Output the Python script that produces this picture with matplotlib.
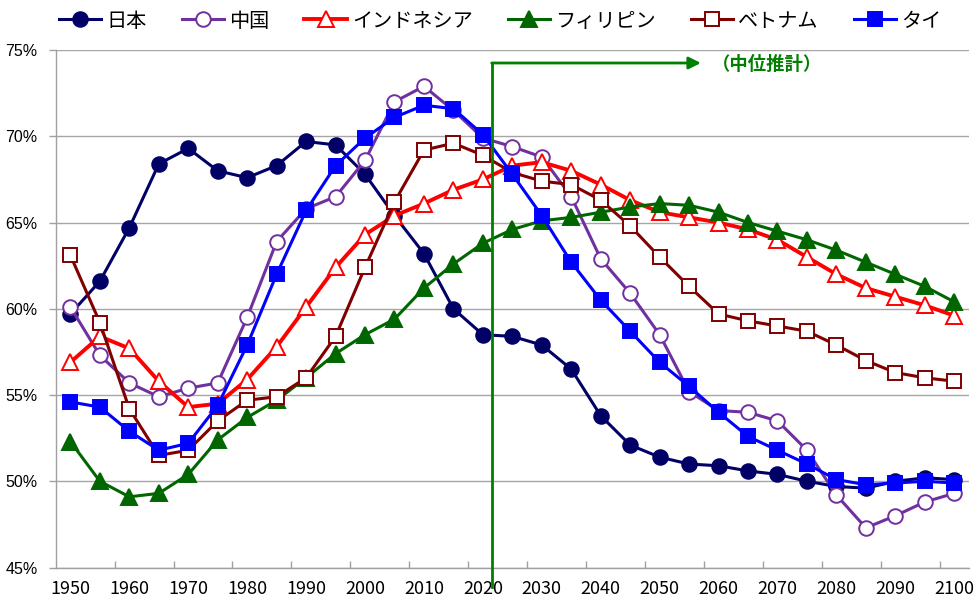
import matplotlib
matplotlib.use('Agg')
import matplotlib.pyplot as plt
from matplotlib.ticker import FixedLocator, FuncFormatter

plt.rcParams['font.family'] = ['Noto Sans CJK JP', 'DejaVu Sans']
plt.rcParams['axes.unicode_minus'] = False

# ===================== データ =====================
years = [1950, 1955, 1960, 1965, 1970, 1975, 1980, 1985, 1990, 1995,
         2000, 2005, 2010, 2015, 2020, 2025, 2030, 2035, 2040, 2045,
         2050, 2055, 2060, 2065, 2070, 2075, 2080, 2085, 2090, 2095, 2100]

japan = [59.7, 61.6, 64.7, 68.4, 69.3, 68.0, 67.6, 68.3, 69.7, 69.5,
         67.8, 65.4, 63.2, 60.0, 58.5, 58.4, 57.9, 56.5, 53.8, 52.1,
         51.4, 51.0, 50.9, 50.6, 50.4, 50.0, 49.7, 49.6, 50.0, 50.2, 50.1]
china = [60.1, 57.3, 55.7, 54.9, 55.4, 55.7, 59.5, 63.9, 65.8, 66.5,
         68.6, 72.0, 72.9, 71.5, 69.9, 69.4, 68.8, 66.5, 62.9, 60.9,
         58.5, 55.2, 54.1, 54.0, 53.5, 51.8, 49.2, 47.3, 48.0, 48.8, 49.3]
indonesia = [56.9, 58.4, 57.7, 55.8, 54.3, 54.5, 55.9, 57.8, 60.1, 62.4,
             64.3, 65.4, 66.1, 66.9, 67.5, 68.3, 68.5, 68.0, 67.2, 66.3,
             65.6, 65.3, 65.0, 64.6, 64.0, 63.0, 62.0, 61.2, 60.7, 60.2, 59.6]
philippines = [52.3, 50.0, 49.1, 49.3, 50.4, 52.4, 53.7, 54.7, 56.0, 57.4,
               58.5, 59.4, 61.2, 62.6, 63.8, 64.6, 65.1, 65.3, 65.6, 65.9,
               66.1, 66.0, 65.6, 65.0, 64.5, 64.0, 63.4, 62.7, 62.0, 61.3, 60.4]
vietnam = [63.1, 59.2, 54.2, 51.5, 51.8, 53.5, 54.7, 54.9, 56.0, 58.4,
           62.4, 66.2, 69.2, 69.6, 68.9, 67.9, 67.4, 67.2, 66.3, 64.8,
           63.0, 61.3, 59.7, 59.3, 59.0, 58.7, 57.9, 57.0, 56.3, 56.0, 55.8]
thailand = [54.6, 54.3, 52.9, 51.8, 52.2, 54.4, 57.9, 62.0, 65.7, 68.3,
            69.9, 71.1, 71.8, 71.6, 70.1, 67.8, 65.4, 62.7, 60.5, 58.7,
            56.9, 55.5, 54.0, 52.6, 51.8, 51.0, 50.1, 49.8, 49.9, 50.0, 49.9]

x_labels = [1950, 1960, 1970, 1980, 1990, 2000, 2010, 2020, 2030, 2040,
            2050, 2060, 2070, 2080, 2090, 2100]
y_ticks = [45, 50, 55, 60, 65, 70, 75]

projection_start = 2021.5   # 推計開始の縦線
note_text = '（中位推計）'

# ===================== 描画 =====================
fig = plt.figure(figsize=(9.77, 6.01), dpi=100)
ax = fig.add_axes([0.057, 0.0557, 0.9348, 0.861])

# (ラベル, データ, 色, マーカー, 塗り, 線幅, マーカーサイズ)
series = [
    ('日本', japan, '#000066', 'o', True, 2.2, 10.5),
    ('中国', china, '#7030A0', 'o', False, 2.2, 10.5),
    ('インドネシア', indonesia, '#FF0000', '^', False, 2.8, 11),
    ('フィリピン', philippines, '#006600', '^', True, 2.2, 11),
    ('ベトナム', vietnam, '#800000', 's', False, 2.2, 10),
    ('タイ', thailand, '#0000FF', 's', True, 2.2, 10.5),
]

for name, vals, col, mk, filled, lw, ms in series:
    ax.plot(years, vals, color=col, lw=lw, marker=mk, ms=ms,
            markerfacecolor=col if filled else 'white',
            markeredgecolor=col, markeredgewidth=1.4, label=name)

ax.set_xlim(1947.5, 2102.5)
ax.set_ylim(45, 75)

# x軸：ラベルはカテゴリ中央、目盛線は2カテゴリごとに内向き
ax.xaxis.set_major_locator(FixedLocator(x_labels))
ax.xaxis.set_minor_locator(FixedLocator([y + 7.5 for y in x_labels[:-1]]))
ax.tick_params(axis='x', which='major', length=0, pad=9, labelsize=13)
ax.tick_params(axis='x', which='minor', direction='in', length=5,
               width=1, color='#a0a0a0')

ax.yaxis.set_major_locator(FixedLocator(y_ticks))
ax.yaxis.set_major_formatter(FuncFormatter(lambda v, p: f'{v:.0f}%'))
ax.tick_params(axis='y', direction='out', length=5, width=1,
               color='#a0a0a0', pad=8)
for lab in ax.get_yticklabels():
    lab.set_fontfamily('Liberation Sans')
    lab.set_fontsize(11.5)

ax.grid(axis='y', color='#a6a6a6', lw=1.0)
ax.set_axisbelow(True)
for s in ['top', 'right']:
    ax.spines[s].set_visible(False)
for s in ['left', 'bottom']:
    ax.spines[s].set_color('#a0a0a0')
    ax.spines[s].set_linewidth(1.0)

# 推計開始の線と矢印
green = '#008000'
ax.plot([projection_start, projection_start], [43.85, 74.25], color=green,
        lw=2, clip_on=False, zorder=5)
ax.annotate('', xy=(2057.0, 74.25), xytext=(projection_start, 74.25),
            arrowprops=dict(arrowstyle='-|>', color=green, lw=2,
                            mutation_scale=18, shrinkA=0, shrinkB=0),
            zorder=5)
ax.text(2058.8, 74.15, note_text, color=green, fontsize=13.2,
        fontweight='bold', ha='left', va='center')

# 凡例
fig.legend(loc='center', bbox_to_anchor=(0.512, 0.965), ncol=6,
           frameon=False, fontsize=14.5, handlelength=2.1,
           handletextpad=0.25, columnspacing=1.75)

plt.savefig('out.png', dpi=100)
plt.close()
